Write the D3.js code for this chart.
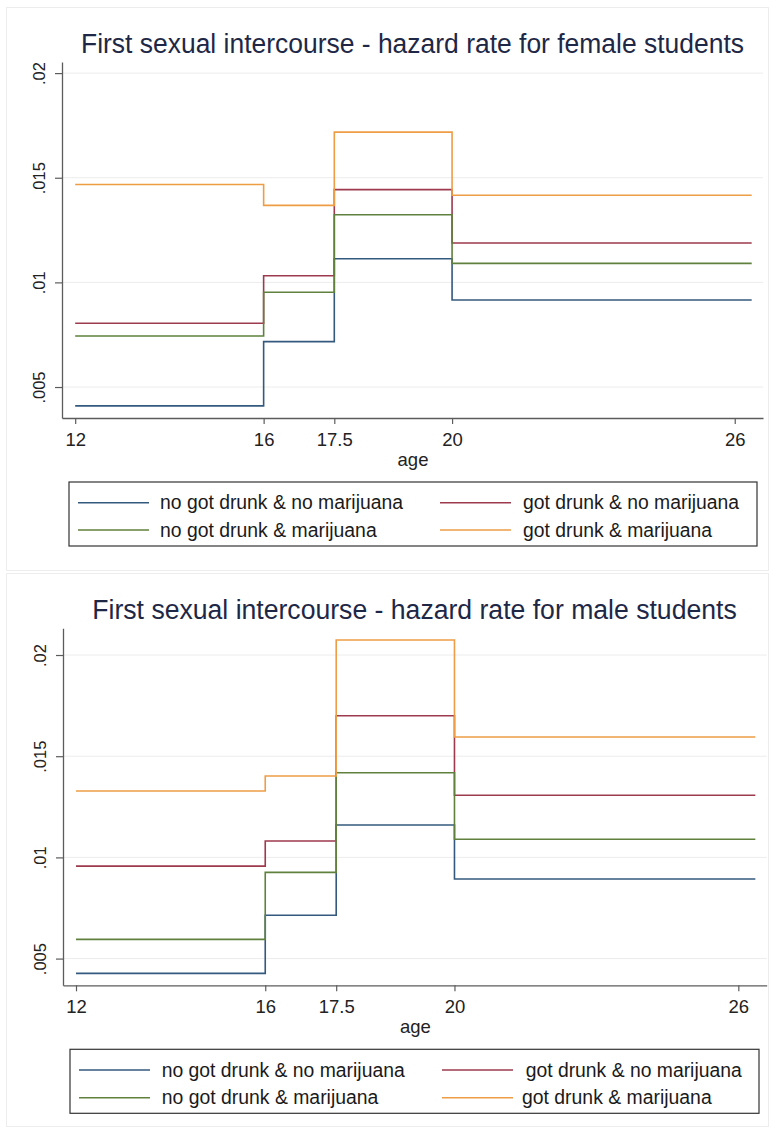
<!DOCTYPE html>
<html><head><meta charset="utf-8">
<script src="https://cdn.jsdelivr.net/npm/d3@7"></script>
<style>
body{margin:0;background:#fff}
svg{display:block}
text{font-family:"Liberation Sans",Arial,Helvetica,sans-serif}
</style></head>
<body>
<svg id="chart" width="773" height="1133"></svg>
<script>
// ---------- data ----------
const ageCuts = [12, 16, 17.5, 20, 26.36];          // step boundaries (last = end of follow-up)
const xTickValues = [12, 16, 17.5, 20, 26];
const yTickValues = [0.005, 0.01, 0.015, 0.02];
const seriesLabels = [
  "no got drunk & no marijuana",
  "got drunk & no marijuana",
  "no got drunk & marijuana",
  "got drunk & marijuana"
];
const seriesColors = ["#34597e", "#9e3a4e", "#5f813d", "#ee9d45"];

// female students: hazard in [12,16), [16,17.5), [17.5,20), [20,end)
const femaleNoDrunkNoMarijuana = [0.0041, 0.00717, 0.01113, 0.00916];
const femaleDrunkNoMarijuana   = [0.00805, 0.01032, 0.01443, 0.01188];
const femaleNoDrunkMarijuana   = [0.00744, 0.00953, 0.01323, 0.01091];
const femaleDrunkMarijuana     = [0.01468, 0.01368, 0.01718, 0.01416];

// male students
const maleNoDrunkNoMarijuana = [0.00427, 0.00714, 0.0116, 0.00893];
const maleDrunkNoMarijuana   = [0.00957, 0.01081, 0.017, 0.01307];
const maleNoDrunkMarijuana   = [0.00595, 0.00926, 0.01418, 0.0109];
const maleDrunkMarijuana     = [0.01328, 0.01402, 0.02074, 0.01595];

const titles = [
  "First sexual intercourse - hazard rate for female students",
  "First sexual intercourse - hazard rate for male students"
];
const xAxisTitle = "age";

// ---------- layout ----------
const panels = [
  {
    title: titles[0],
    series: [femaleNoDrunkNoMarijuana, femaleDrunkNoMarijuana, femaleNoDrunkMarijuana, femaleDrunkMarijuana],
    frame: {x: 6.5, y: 7.5, w: 762, h: 563},
    titleX: 412.5, titleY: 52.7, titleW: 663,
    left: 62, right: 763, top: 62, bottom: 418,
    yDomain: [0.00352, 0.02053], xDomain: [11.72, 26.6],
    ageY: 466,
    legend: {x: 69, y: 482, w: 688, h: 64, rows: [502.7, 530], lineX: [[78, 149], [440, 511]],
             textX: [[160, 523], [160, 523]], textW: [[243, 216], [216.7, 189]]}
  },
  {
    title: titles[1],
    series: [maleNoDrunkNoMarijuana, maleDrunkNoMarijuana, maleNoDrunkMarijuana, maleDrunkMarijuana],
    frame: {x: 6.5, y: 573.5, w: 762, h: 553},
    titleX: 414.5, titleY: 619.3, titleW: 644.4,
    left: 63, right: 766.7, top: 628.3, bottom: 985.3,
    yDomain: [0.00368, 0.02132], xDomain: [11.725, 26.6],
    ageY: 1033.3,
    legend: {x: 70, y: 1049.3, w: 689, h: 64, rows: [1070, 1097.7], lineX: [[79, 150], [442, 513]],
             textX: [[161.7, 525.7], [161.7, 522]], textW: [[243, 216], [216.7, 189.7]]}
  }
];

const svg = d3.select("#chart");
const fmtY = d => d3.format(".3~f")(d).replace(/^0/, "");

panels.forEach(p => {
  const g = svg.append("g");

  // outer frame
  g.append("rect").attr("x", p.frame.x).attr("y", p.frame.y)
    .attr("width", p.frame.w).attr("height", p.frame.h)
    .attr("fill", "#fff").attr("stroke", "#ededed").attr("stroke-width", 1);

  const x = d3.scaleLinear().domain(p.xDomain).range([p.left, p.right]);
  const y = d3.scaleLinear().domain(p.yDomain).range([p.bottom, p.top]);

  // title
  g.append("text").attr("x", p.titleX).attr("y", p.titleY)
    .attr("text-anchor", "middle").attr("font-size", 27).attr("fill", "#1e2846")
    .attr("textLength", p.titleW).attr("lengthAdjust", "spacingAndGlyphs")
    .text(p.title);

  // gridlines
  g.append("g").selectAll("line").data(yTickValues).join("line")
    .attr("x1", p.left).attr("x2", p.right)
    .attr("y1", d => y(d)).attr("y2", d => y(d))
    .attr("stroke", "#ececec").attr("stroke-width", 1);

  // y axis
  const yAx = g.append("g").attr("transform", `translate(${p.left},0)`)
    .call(d3.axisLeft(y).tickValues(yTickValues).tickFormat(fmtY).tickSize(7).tickSizeOuter(0));
  yAx.select(".domain").attr("stroke", "#5c5c5c").attr("stroke-width", 1.3);
  yAx.selectAll(".tick line").attr("stroke", "#5c5c5c").attr("stroke-width", 1.2);
  yAx.selectAll(".tick text")
    .attr("transform", "rotate(-90)")
    .attr("x", 0).attr("y", -17).attr("dy", 0)
    .attr("text-anchor", "middle")
    .attr("font-size", 16.5).attr("fill", "#222")
    .style("font-family", '"Liberation Sans",Arial,sans-serif');

  // x axis
  const xAx = g.append("g").attr("transform", `translate(0,${p.bottom})`)
    .call(d3.axisBottom(x).tickValues(xTickValues).tickFormat(d => String(d)).tickSize(6).tickSizeOuter(0));
  xAx.select(".domain").attr("stroke", "#5c5c5c").attr("stroke-width", 1.3);
  xAx.selectAll(".tick line").attr("stroke", "#5c5c5c").attr("stroke-width", 1.2);
  xAx.selectAll(".tick text")
    .attr("y", 27.6).attr("dy", 0)
    .attr("font-size", 18.5).attr("fill", "#222")
    .style("font-family", '"Liberation Sans",Arial,sans-serif');

  g.append("text").attr("x", (p.left + p.right) / 2 + 0.5).attr("y", p.ageY)
    .attr("text-anchor", "middle").attr("font-size", 18.5).attr("fill", "#222")
    .text(xAxisTitle);

  // step lines
  const line = d3.line().x(d => x(d[0])).y(d => y(d[1])).curve(d3.curveStepAfter);
  p.series.forEach((vals, i) => {
    const pts = ageCuts.map((a, k) => [a, vals[Math.min(k, vals.length - 1)]]);
    g.append("path").datum(pts).attr("d", line)
      .attr("fill", "none").attr("stroke", seriesColors[i]).attr("stroke-width", 1.6);
  });

  // legend
  const L = p.legend;
  g.append("rect").attr("x", L.x).attr("y", L.y).attr("width", L.w).attr("height", L.h)
    .attr("fill", "#fff").attr("stroke", "#333").attr("stroke-width", 1.2);
  seriesLabels.forEach((lab, i) => {
    const row = Math.floor(i / 2), col = i % 2;
    const yy = L.rows[row];
    g.append("line").attr("x1", L.lineX[col][0]).attr("x2", L.lineX[col][1])
      .attr("y1", yy).attr("y2", yy)
      .attr("stroke", seriesColors[i]).attr("stroke-width", 1.6);
    g.append("text").attr("x", L.textX[row][col]).attr("y", yy + 6.6)
      .attr("font-size", 19.5).attr("fill", "#1a1a1a")
      .attr("textLength", L.textW[row][col]).attr("lengthAdjust", "spacingAndGlyphs")
      .text(lab);
  });
});
</script>
</body></html>
